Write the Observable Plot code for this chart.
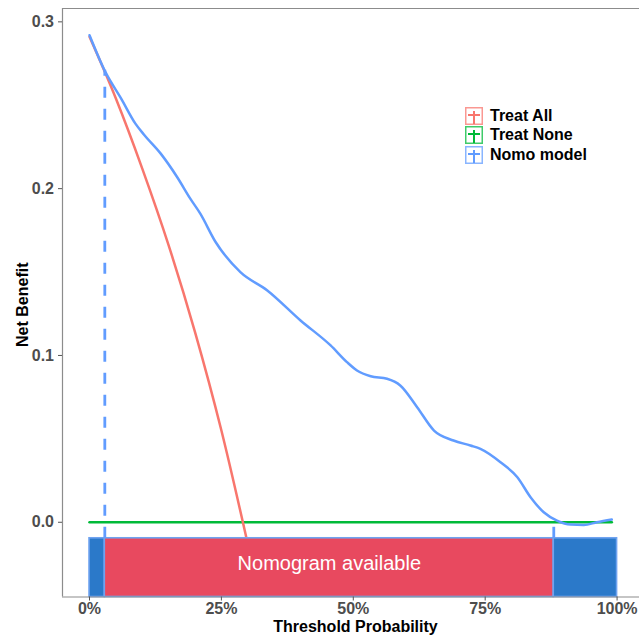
<!DOCTYPE html>
<html>
<head>
<meta charset="utf-8">
<script src="https://cdn.jsdelivr.net/npm/d3@7"></script>
<script src="https://cdn.jsdelivr.net/npm/@observablehq/plot@0.6"></script>
<style>
  html, body { margin: 0; padding: 0; background: #fff; }
  #wrap { position: relative; width: 639px; height: 638px; font-family: "Liberation Sans", Arial, sans-serif; }
  #legend { position: absolute; left: 465px; top: 106px; }
  .item { display: flex; align-items: center; height: 19.5px; font-weight: bold; font-size: 16px; color: #000; }
  .item svg { margin-right: 7px; }
</style>
</head>
<body>
<div id="wrap"><div id="legend"></div></div>
<script>
// ---- data ----
const seriesNames = ["Treat All", "Treat None", "Nomo model"];
const seriesColors = ["#F8766D", "#00BA38", "#619CFF"];

const allThresholds = [0, 0.05, 0.10, 0.15, 0.20, 0.25, 0.30];
const allValues     = [0.291, 0.254, 0.212, 0.166, 0.114, 0.055, -0.013];

const noneThresholds = [0, 0.99];
const noneValues     = [0, 0];

const nomoThresholds = [0, 0.03, 0.06, 0.087, 0.103, 0.135, 0.166, 0.191, 0.21, 0.239, 0.286, 0.337, 0.40, 0.457, 0.488, 0.507, 0.533, 0.564, 0.589, 0.621, 0.653, 0.69, 0.722, 0.741, 0.779, 0.811, 0.836, 0.861, 0.886, 0.912, 0.937, 0.962, 0.99];
const nomoValues     = [0.292, 0.270, 0.254, 0.239, 0.2325, 0.221, 0.207, 0.194, 0.185, 0.168, 0.150, 0.139, 0.121, 0.106, 0.096, 0.091, 0.0875, 0.086, 0.082, 0.069, 0.055, 0.049, 0.046, 0.044, 0.036, 0.027, 0.015, 0.006, 0.001, -0.0014, -0.0016, 0.0, 0.0016];

const rangeStarts = [0, 0.029, 0.88];
const rangeEnds   = [0.029, 0.88, 1.0];
const rangeKinds  = ["out", "in", "out"];
const rangeTop = -0.0096;
const cutoffs = [0.029, 0.88];
const cutoffValues = [0.271, 0.001];
const bandLabel = "Nomogram available";

const xTicks = [0, 0.25, 0.5, 0.75, 1];
const yTicks = [0, 0.1, 0.2, 0.3];
const xTitle = "Threshold Probability";
const yTitle = "Net Benefit";

// ---- build ----
const xDomain = [-0.0512, 1.0425];
const yDomain = [-0.0448, 0.308];

const mk = (xs, ys) => xs.map((x, i) => ({x, y: ys[i]}));
const allData = mk(allThresholds, allValues);
const noneData = mk(noneThresholds, noneValues);
const nomoData = mk(nomoThresholds, nomoValues);
const rects = rangeStarts.map((s, i) => ({x1: s, x2: rangeEnds[i], kind: rangeKinds[i]}));
const rules = cutoffs.map((c, i) => ({x: c, y2: cutoffValues[i]}));

const chart = Plot.plot({
  width: 639,
  height: 638,
  marginLeft: 62,
  marginRight: 0,
  marginTop: 8,
  marginBottom: 41.5,
  style: {fontFamily: "Liberation Sans, Arial, sans-serif", fontSize: "16px", background: "transparent"},
  x: {domain: xDomain, label: null},
  y: {domain: yDomain, label: null},
  marks: [
    Plot.line(noneData, {x: "x", y: "y", stroke: seriesColors[1], strokeWidth: 2.5}),
    Plot.line(allData, {x: "x", y: "y", stroke: seriesColors[0], strokeWidth: 2.5, curve: "monotone-x"}),
    Plot.line(nomoData, {x: "x", y: "y", stroke: seriesColors[2], strokeWidth: 2.5, curve: "monotone-x"}),
    Plot.rect(rects, {x1: "x1", x2: "x2", y1: yDomain[0], y2: rangeTop,
      fill: d => d.kind === "in" ? "#E8495F" : "#2B79C9", stroke: "#6FA3F0", strokeWidth: 1.6}),
    Plot.ruleX(rules, {x: "x", y1: rangeTop, y2: "y2", stroke: seriesColors[2], strokeWidth: 2.8, strokeDasharray: "11,11"}),
    Plot.text([bandLabel], {x: (cutoffs[0] + cutoffs[1]) / 2, y: -0.025, fill: "white", fontSize: 20}),
    Plot.ruleX([xDomain[0]], {stroke: "#8c8c8c", strokeWidth: 1.2}),
    Plot.ruleY([yDomain[0], yDomain[1]], {stroke: "#8c8c8c", strokeWidth: 1.2}),
    Plot.axisX({ticks: xTicks, tickFormat: d3.format(".0%"), tickSize: 4, tickPadding: 2, fontWeight: "bold", fontSize: 16, fill: "#4D4D4D", stroke: "#555", label: null}),
    Plot.axisY({ticks: yTicks, tickFormat: d3.format(".1f"), tickSize: 4, tickPadding: 4.5, fontWeight: "bold", fontSize: 16, fill: "#4D4D4D", stroke: "#555", label: null}),
    Plot.text([xTitle], {frameAnchor: "bottom", lineAnchor: "middle", textAnchor: "middle", dy: 29.5, dx: 4.5, fontWeight: "bold", fontSize: 16, fill: "#000"}),
    Plot.text([yTitle], {frameAnchor: "left", lineAnchor: "middle", textAnchor: "middle", dx: -40, dy: 2, rotate: -90, fontWeight: "bold", fontSize: 16, fill: "#000"})
  ]
});
document.getElementById("wrap").prepend(chart);

// legend
const legend = document.getElementById("legend");
seriesNames.forEach((name, i) => {
  const c = seriesColors[i];
  const div = document.createElement("div");
  div.className = "item";
  div.innerHTML = `<svg width="18" height="18" viewBox="0 0 18 18">
    <rect x="0.75" y="0.75" width="16.5" height="16.5" fill="white" stroke="${c}" stroke-opacity="0.75" stroke-width="1.5"/>
    <line x1="3" x2="15" y1="8" y2="8" stroke="${c}" stroke-width="2"/>
    <line x1="9" x2="9" y1="4" y2="17" stroke="${c}" stroke-width="2"/>
  </svg><span>${name}</span>`;
  legend.appendChild(div);
});
</script>
</body>
</html>
